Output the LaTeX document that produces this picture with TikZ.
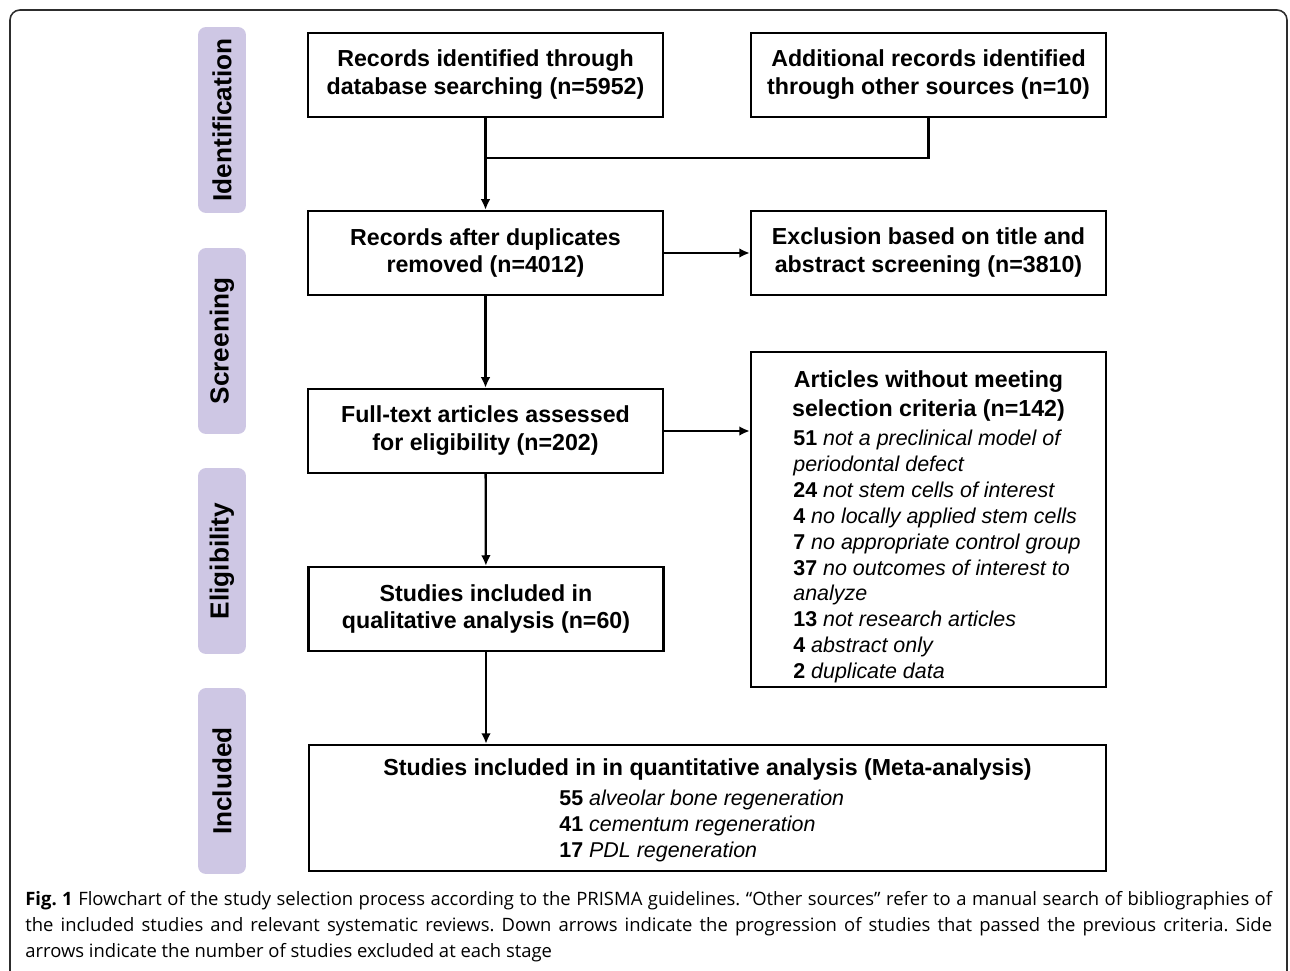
\documentclass[tikz,border=0pt]{standalone}
\usepackage{fontspec}
\setmainfont{Liberation Sans}
\newfontfamily\capfont{Open Sans}
\usetikzlibrary{arrows,arrows.meta}

\definecolor{stagebg}{RGB}{206,199,228}
\definecolor{framegray}{RGB}{45,45,45}

\tikzset{
  box/.style={draw, line width=1.4pt, minimum width=7.1cm, minimum height=1.68cm, align=center, inner sep=2pt, font=\bfseries\fontsize{13.2}{15.9}\selectfont},
  stage/.style={fill=stagebg, rounded corners=0.16cm, rotate=90, minimum width=3.72cm, minimum height=0.96cm, font=\bfseries\fontsize{14.9}{17}\selectfont},
  flow/.style={-{Latex[length=6pt,width=5.5pt]}, line width=1.3pt},
  txt/.style={inner sep=0pt, align=left, font=\fontsize{12.2}{14.7}\selectfont},
}

\begin{document}
\frenchspacing
\begin{tikzpicture}[x=0.02cm, y=-0.02cm]
        \useasboundingbox (0,0) rectangle (1290,970);
        \draw[framegray, line width=0.9pt, rounded corners=0.2cm] (10,990) -- (10,10) -- (1287,10) -- (1287,990);

        % stages
        \draw (222,120) node[stage] (ident) {Identification};
        \draw (222,341) node[stage] (screen) {Screening};
        \draw (222,561) node[stage] (elig) {Eligibility};
        \draw (222,781) node[stage] (incl) {Included};

        \draw (485.5,75) node[box] (db) {Records identified through\\database searching (n=5952)};
        \draw (928.5,75) node[box] (other) {Additional records identified\\through other sources (n=10)};
        \draw (485.5,253) node[box] (dup) {Records after duplicates\\removed (n=4012)};
        \draw (928.5,253) node[box] (excl) {Exclusion based on title and\\abstract screening (n=3810)};
        \draw (485.5,431) node[box] (full) {Full-text articles assessed\\for eligibility (n=202)};
        \draw (486,609) node[box] (qual) {Studies included in\\qualitative analysis (n=60)};

        \draw (928.5,519.5) node[box, minimum height=6.7cm] (crit) {};
        \draw (928.5,396) node[font=\bfseries\fontsize{13.2}{16.2}\selectfont, align=center, inner sep=0pt] (crittitle) {Articles without meeting\\selection criteria (n=142)};
        \draw (793,430) node[txt, anchor=north west] (critlist) {\textbf{51} \textit{not a preclinical model of}\\
            \textit{periodontal defect}\\
            \textbf{24} \textit{not stem cells of interest}\\
            \textbf{4} \textit{no locally applied stem cells}\\
            \textbf{7} \textit{no appropriate control group}\\
            \textbf{37} \textit{no outcomes of interest to}\\
            \textit{analyze}\\
            \textbf{13} \textit{not research articles}\\
            \textbf{4} \textit{abstract only}\\
            \textbf{2} \textit{duplicate data}};

        \draw (707.5,808) node[box, minimum width=15.94cm, minimum height=2.52cm] (meta) {};
        \draw (707.5,769) node[font=\bfseries\fontsize{13.2}{15.9}\selectfont, inner sep=0pt] (metatitle) {Studies included in in quantitative analysis (Meta-analysis)};
        \draw (559,790) node[txt, anchor=north west] (metalist) {\textbf{55} \textit{alveolar bone regeneration}\\
            \textbf{41} \textit{cementum regeneration}\\
            \textbf{17} \textit{PDL regeneration}};

        % connectors
        \coordinate (join) at (485.5,158);
        \draw[line width=1.3pt] (other.south) |- (join);
        \draw[flow] (db) -- (dup);
        \draw[flow] (dup) -- (excl);
        \draw[flow] (dup) -- (full);
        \draw[flow] (full.east) -- (full.east -| crit.west);
        \draw[flow] (full) -- (qual);
        \draw[flow] (qual) -- (qual.south |- meta.north);

        % caption
        \draw (25,891) node[anchor=north west, inner sep=0pt, text width=24.94cm, align=justify, font=\capfont\fontsize{10.5}{14.74}\selectfont] (caption) {\textbf{Fig. 1} Flowchart of the study selection process according to the PRISMA guidelines. “Other sources” refer to a manual search of bibliographies of\linebreak
            the included studies and relevant systematic reviews. Down arrows indicate the progression of studies that passed the previous criteria. Side\linebreak
            arrows indicate the number of studies excluded at each stage};
    \end{tikzpicture}
\end{document}
